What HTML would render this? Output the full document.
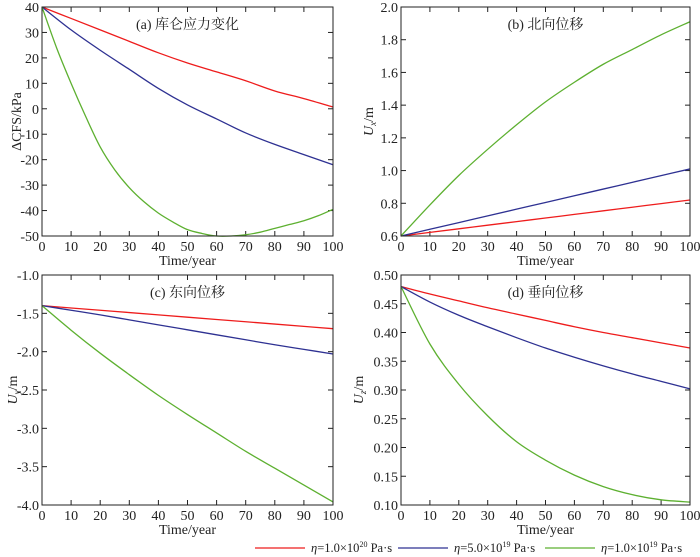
<!DOCTYPE html>
<html><head><meta charset="utf-8"><style>
body{margin:0;background:#fff;}
svg{display:block;font-family:"Liberation Serif","Noto Serif CJK SC",serif;}
</style></head><body>
<svg id="c" width="700" height="557"></svg>
<script>
const years=[0,10,20,30,40,50,60,70,80,90,100];
const years5=[0,5,10,15,20,25,30,35,40,45,50,55,60,65,70,75,80,85,90,95,100];
const aRed=[40,35.5,31,26.5,22,18,14.5,11,7,4,0.7];
const aBlue=[40,31,23,15.5,8,1.5,-4,-9.5,-14,-18,-22];
const aGreen=[40,24,10,-3,-15,-24,-31,-36.5,-41,-44.5,-47.5,-49,-50,-50,-49.5,-48.5,-47,-45.5,-44,-42,-39.5];
const bRed=[0.6,0.622,0.644,0.666,0.688,0.71,0.732,0.754,0.776,0.798,0.82];
const bBlue=[0.6,0.641,0.682,0.723,0.764,0.805,0.846,0.887,0.928,0.969,1.01];
const bGreen=[0.6,0.79,0.97,1.13,1.28,1.42,1.54,1.65,1.74,1.83,1.91];
const cRed=[-1.4,-1.43,-1.46,-1.49,-1.52,-1.55,-1.58,-1.61,-1.64,-1.67,-1.7];
const cBlue=[-1.4,-1.46,-1.52,-1.585,-1.65,-1.715,-1.78,-1.845,-1.91,-1.97,-2.03];
const cGreen=[-1.4,-1.72,-2.02,-2.3,-2.57,-2.82,-3.06,-3.3,-3.52,-3.74,-3.96];
const dRed=[0.48,0.467,0.455,0.443,0.432,0.421,0.41,0.4,0.391,0.382,0.373];
const dBlue=[0.48,0.453,0.43,0.41,0.391,0.373,0.357,0.342,0.328,0.315,0.302];
const dGreen=[0.48,0.38,0.31,0.255,0.21,0.178,0.152,0.132,0.118,0.109,0.105];
const xTicks=[0,10,20,30,40,50,60,70,80,90,100];
const aTicks=[40,30,20,10,0,-10,-20,-30,-40,-50];
const bTicks=[0.6,0.8,1.0,1.2,1.4,1.6,1.8,2.0];
const cTicks=[-1.0,-1.5,-2.0,-2.5,-3.0,-3.5,-4.0];
const dTicks=[0.10,0.15,0.20,0.25,0.30,0.35,0.40,0.45,0.50];
const colors=['#ee1c1c','#2e3192','#5db030'];
const NS='http://www.w3.org/2000/svg';
const svg=document.getElementById('c');
function el(t,a,p){const e=document.createElementNS(NS,t);for(const k in a)e.setAttribute(k,a[k]);(p||svg).appendChild(e);return e;}
function txt(s,x,y,a,p){const e=el('text',Object.assign({x:x,y:y,'font-size':14,fill:'#222'},a),p);e.textContent=s;return e;}
function curve(pts){let d='M'+pts[0][0]+','+pts[0][1];for(let i=0;i<pts.length-1;i++){const p0=pts[i-1]||pts[i],p1=pts[i],p2=pts[i+1],p3=pts[i+2]||p2;
d+=' C'+(p1[0]+(p2[0]-p0[0])/6)+','+(p1[1]+(p2[1]-p0[1])/6)+' '+(p2[0]-(p3[0]-p1[0])/6)+','+(p2[1]-(p3[1]-p1[1])/6)+' '+p2[0]+','+p2[1];}return d;}
function panel(id,L,R,T,B,ymin,ymax,ticks,dec,title,ylab,yoff,series){
 const g=el('g',{});
 
 
 const sx=v=>L+(v-0)/100*(R-L), sy=v=>B-(v-ymin)/(ymax-ymin)*(B-T);
 xTicks.forEach(t=>{const x=sx(t);el('line',{x1:x,x2:x,y1:B,y2:B-5,stroke:'#222'},g);el('line',{x1:x,x2:x,y1:T,y2:T+5,stroke:'#222'},g);
  const l=txt(String(t),x,B+15,{'text-anchor':'middle'},g);});
 ticks.forEach(t=>{const y=sy(t);el('line',{x1:L,x2:L+5,y1:y,y2:y,stroke:'#222'},g);el('line',{x1:R,x2:R-5,y1:y,y2:y,stroke:'#222'},g);
  const l=txt(t.toFixed(dec),L-3,y+5,{'text-anchor':'end'},g);});
 series.forEach((s,i)=>{const yr=s.length===years.length?years:years5;
  const p=el('path',{d:curve(yr.map((v,j)=>[sx(v),sy(s[j])])),fill:'none',stroke:colors[i],'stroke-width':1.3},g);
  });
 const f=el('rect',{x:L,y:T,width:R-L,height:B-T,fill:'none',stroke:'#222','stroke-width':1},g);
 
 const tt=txt(title,(L+R)/2,T+22,{'text-anchor':'middle'},g);
 const xl=txt('Time/year',(L+R)/2,B+29,{'text-anchor':'middle'},g);
 const yl=el('text',{x:0,y:0,'font-size':14,fill:'#222','text-anchor':'middle',transform:'translate('+(L-yoff)+','+((T+B)/2)+') rotate(-90)'},g);
 yl.innerHTML=ylab;
}
panel('a',42,333,7,236,-50,40,aTicks,0,'(a) 库仑应力变化','ΔCFS/kPa',21,[aRed,aBlue,aGreen]);
panel('b',401,690,7,236,0.6,2.0,bTicks,1,'(b) 北向位移','<tspan font-style="italic">U</tspan><tspan font-style="italic" font-size="9" dy="3">x</tspan><tspan dy="-3">/m</tspan>',28,[bRed,bBlue,bGreen]);
panel('c',42,333,275,505,-4.0,-1.0,cTicks,1,'(c) 东向位移','<tspan font-style="italic">U</tspan><tspan font-style="italic" font-size="9" dy="3">y</tspan><tspan dy="-3">/m</tspan>',25,[cRed,cBlue,cGreen]);
panel('d',401,690,275,505,0.10,0.50,dTicks,2,'(d) 垂向位移','<tspan font-style="italic">U</tspan><tspan font-style="italic" font-size="9" dy="3">z</tspan><tspan dy="-3">/m</tspan>',38,[dRed,dBlue,dGreen]);
const leg=[['1.0×10','20',255],['5.0×10','19',398],['1.0×10','19',545]];
leg.forEach((l,i)=>{const g=el('g',{});
 
 
 el('line',{x1:l[2],x2:l[2]+50,y1:548,y2:548,stroke:colors[i],'stroke-width':1.3},g);
 const t=el('text',{x:l[2]+56,y:552,'font-size':12.5,fill:'#222'},g);
 t.innerHTML='<tspan font-style="italic">η</tspan>='+l[0]+'<tspan font-size="8" dy="-5">'+l[1]+'</tspan><tspan dy="5"> Pa·s</tspan>';});
</script>
</body></html>
